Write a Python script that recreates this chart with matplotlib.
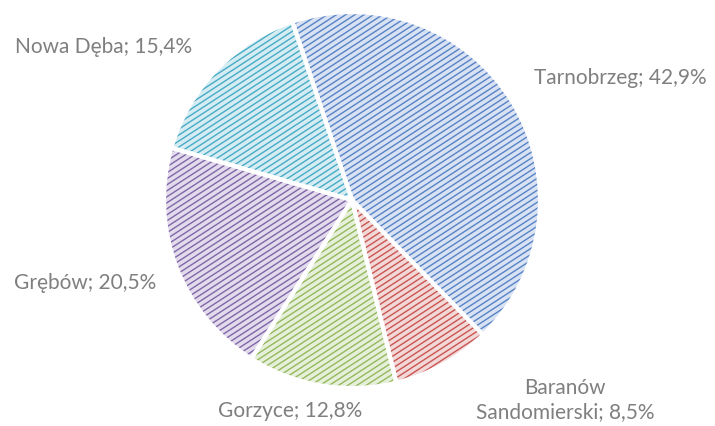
import matplotlib
matplotlib.use("Agg")
import matplotlib.pyplot as plt
from matplotlib.collections import LineCollection
import numpy as np

categories = ["Tarnobrzeg", "Baranów\nSandomierski", "Gorzyce", "Grębów", "Nowa Dęba"]
values = [42.9, 8.5, 12.8, 20.5, 15.4]
pct_labels = ["42,9%", "8,5%", "12,8%", "20,5%", "15,4%"]

hatch_colors = ["#5683c6", "#c85552", "#94b95c", "#8065a8", "#46abc6"]
fill_colors = ["#d9e2f3", "#f3d8d8", "#e6efda", "#e2dbec", "#d5ecf3"]

# layout (pixel coords, y down)
W, H = 715, 426
cx, cy, R = 352, 200, 188
label_xy = [(620, 78), (565, 400), (290, 411), (85, 283), (104, 47)]

fig = plt.figure(figsize=(W / 100, H / 100), dpi=100)
ax = fig.add_axes([0, 0, 1, 1])

wedges, _ = ax.pie(values, startangle=108.5, counterclock=False,
                   center=(cx, H - cy), radius=R, colors=fill_colors,
                   wedgeprops=dict(linewidth=0), frame=True)

# diagonal stripe pattern clipped to each wedge
slope = np.tan(np.radians(33))
spacing = 6.0
offsets = np.arange(-W, H + W, spacing)
x0, x1 = 0.0, float(W)
for w, hc in zip(wedges, hatch_colors):
    segs = [[(x0, b + slope * x0), (x1, b + slope * x1)] for b in offsets - slope * W / 2]
    lc = LineCollection(segs, colors=hc, linewidths=1.0, zorder=w.get_zorder() + 0.1)
    ax.add_collection(lc)
    lc.set_clip_path(w)

ax.pie(values, startangle=108.5, counterclock=False,
       center=(cx, H - cy), radius=R, colors=['none'] * len(values),
       wedgeprops=dict(linewidth=3, edgecolor='white', zorder=5), frame=True)
ax.set_xlim(0, W)
ax.set_ylim(0, H)
ax.set_aspect('equal')
ax.axis('off')

for cat, pct, (lx, ly) in zip(categories, pct_labels, label_xy):
    ax.text(lx, H - ly, f"{cat}; {pct}", ha='center', va='center',
            fontsize=15, color='#7f7f7f', family=['Lato', 'DejaVu Sans'],
            linespacing=1.3)

fig.savefig("out.png", dpi=100)
